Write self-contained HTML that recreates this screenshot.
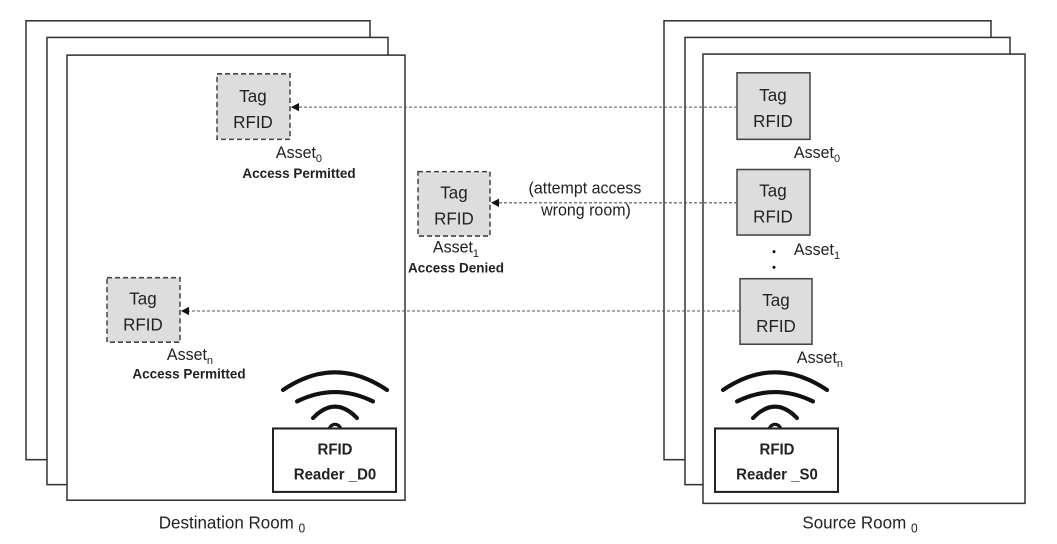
<!DOCTYPE html>
<html><head><meta charset="utf-8"><style>
html,body{margin:0;padding:0;background:#fff;}
svg{display:block;}
text{font-family:"Liberation Sans",sans-serif;fill:#222;}
</style></head><body>
<svg width="1057" height="544" viewBox="0 0 1057 544" xmlns="http://www.w3.org/2000/svg">
<defs>
<marker id="ah" markerWidth="8" markerHeight="8" refX="7" refY="4" orient="auto" markerUnits="userSpaceOnUse">
<path d="M0,0 L8,4 L0,8 z" fill="#111"/></marker>
<g id="wifi" fill="none" stroke="#111" stroke-width="4" stroke-linecap="round">
<path d="M-52,17 Q0,-17 52,17"/>
<path d="M-38,28 Q0,10 38,28"/>
<path d="M-22,44 Q0,22 22,44"/>
<path d="M-6,56 A6,6 0 0 1 6,56" stroke-width="3"/>
</g>
</defs>
<g transform="scale(1,1.04)">
<g fill="#fff" stroke="#333" stroke-width="1.5">
<rect x="26" y="20" width="344" height="422"/>
<rect x="47" y="36" width="341" height="430"/>
<rect x="67" y="53" width="338" height="428"/>
<rect x="664" y="20" width="327" height="422"/>
<rect x="685" y="36" width="325" height="430"/>
<rect x="703" y="52" width="322" height="432"/>
</g>
<g fill="#ddd" stroke="#444" stroke-width="1.5" stroke-dasharray="5,3">
<rect x="217" y="71" width="73" height="63"/>
<rect x="107" y="267" width="73" height="62"/>
<rect x="418" y="165" width="72" height="62"/>
</g>
<g fill="#ddd" stroke="#444" stroke-width="1.5">
<rect x="737" y="70" width="73" height="64"/>
<rect x="737" y="163" width="73" height="63"/>
<rect x="740" y="268" width="72" height="63"/>
</g>
<g font-size="17" text-anchor="middle">
<text x="253" y="98">Tag</text><text x="253" y="123">RFID</text>
<text x="143" y="293">Tag</text><text x="143" y="318">RFID</text>
<text x="454" y="191">Tag</text><text x="454" y="216">RFID</text>
<text x="773" y="97">Tag</text><text x="773" y="122">RFID</text>
<text x="773" y="189">Tag</text><text x="773" y="214">RFID</text>
<text x="776" y="294">Tag</text><text x="776" y="319">RFID</text>
</g>
<g stroke="#555" stroke-width="1" stroke-dasharray="3,2" marker-end="url(#ah)">
<line x1="737" y1="103" x2="292" y2="103"/>
<line x1="737" y1="195" x2="492" y2="195"/>
<line x1="740" y1="299" x2="182" y2="299"/>
</g>
<g font-size="16" text-anchor="middle">
<text x="299" y="152">Asset<tspan font-size="11" dy="4">0</tspan></text>
<text x="190" y="346">Asset<tspan font-size="11" dy="4">n</tspan></text>
<text x="456" y="243">Asset<tspan font-size="11" dy="4">1</tspan></text>
<text x="817" y="152">Asset<tspan font-size="11" dy="4">0</tspan></text>
<text x="817" y="245">Asset<tspan font-size="11" dy="4">1</tspan></text>
<text x="820" y="349">Asset<tspan font-size="11" dy="4">n</tspan></text>
<text x="585" y="186">(attempt access</text>
<text x="586" y="207">wrong room)</text>
</g>
<g font-size="13.5" font-weight="bold" text-anchor="middle">
<text x="299" y="171">Access Permitted</text>
<text x="189" y="364">Access Permitted</text>
<text x="456" y="262">Access Denied</text>
</g>
<circle cx="774" cy="242" r="1.5" fill="#111"/>
<circle cx="774" cy="257" r="1.5" fill="#111"/>
<use href="#wifi" x="335" y="358"/>
<use href="#wifi" x="775" y="358"/>
<rect x="273" y="412" width="123" height="61" fill="#fff" stroke="#222" stroke-width="2"/>
<rect x="715" y="412" width="123" height="61" fill="#fff" stroke="#222" stroke-width="2"/>
<g font-size="15" font-weight="bold" text-anchor="middle">
<text x="335" y="437">RFID</text><text x="335" y="461">Reader _D0</text>
<text x="777" y="437">RFID</text><text x="777" y="461">Reader _S0</text>
</g>
<g font-size="17" text-anchor="middle">
<text x="232" y="508">Destination Room <tspan font-size="12" dy="4">0</tspan></text>
<text x="860" y="508">Source Room <tspan font-size="12" dy="4">0</tspan></text>
</g>
</g>
</svg>
</body></html>
